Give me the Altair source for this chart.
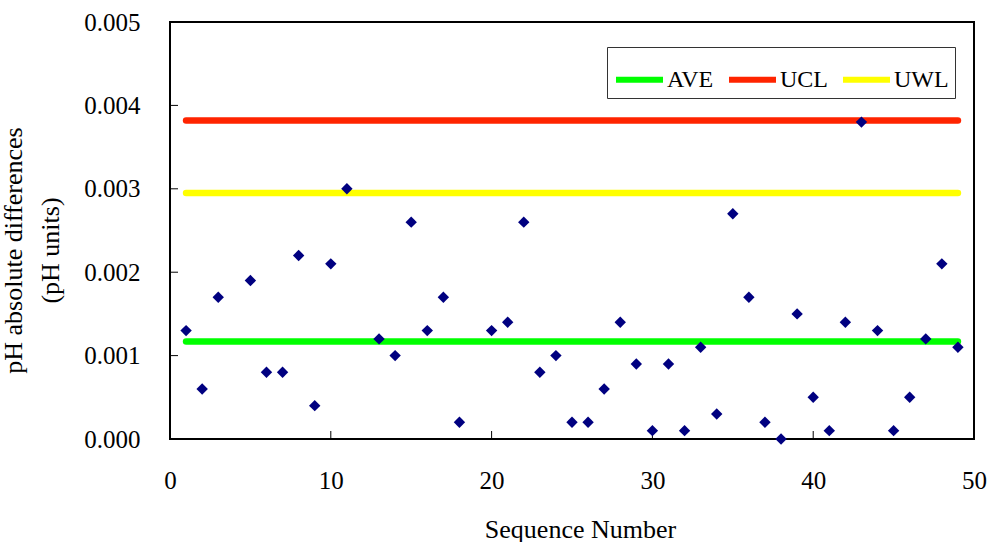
import altair as alt
import pandas as pd

# ---- data ----
seq = [1, 2, 3, 5, 6, 7, 8, 9, 10, 11, 13, 14, 15, 16, 17, 18, 20, 21, 22, 23,
       24, 25, 26, 27, 28, 29, 30, 31, 32, 33, 34, 35, 36, 37, 38, 39, 40, 41,
       42, 43, 44, 45, 46, 47, 48, 49]
diffs = [0.0013, 0.0006, 0.0017, 0.0019, 0.0008, 0.0008, 0.0022, 0.0004, 0.0021,
         0.0030, 0.0012, 0.0010, 0.0026, 0.0013, 0.0017, 0.0002, 0.0013, 0.0014,
         0.0026, 0.0008, 0.0010, 0.0002, 0.0002, 0.0006, 0.0014, 0.0009, 0.0001,
         0.0009, 0.0001, 0.0011, 0.0003, 0.0027, 0.0017, 0.0002, 0.0000, 0.0015,
         0.0005, 0.0001, 0.0014, 0.0038, 0.0013, 0.0001, 0.0005, 0.0012, 0.0021,
         0.0011]

limit_names = ["AVE", "UCL", "UWL"]
limit_values = [0.00117, 0.00382, 0.00295]
limit_start = 1
limit_end = 49
limit_colors = ["#00FF00", "#FF2400", "#FFFF00"]

x_ticks = [0, 10, 20, 30, 40, 50]
y_ticks = [0.0, 0.001, 0.002, 0.003, 0.004, 0.005]
x_inner_ticks = [10, 20, 30, 40]
y_inner_ticks = [0.001, 0.002, 0.003, 0.004]

FONT = "Liberation Serif"

points = pd.DataFrame({"seq": seq, "diff": diffs})
lines = pd.DataFrame({
    "series": [n for n in limit_names for _ in range(2)],
    "seq": [limit_start, limit_end] * len(limit_names),
    "diff": [v for v in limit_values for _ in range(2)],
})
xt = pd.DataFrame({"seq": x_inner_ticks, "diff": [0.0] * len(x_inner_ticks)})
yt = pd.DataFrame({"seq": [0] * len(y_inner_ticks), "diff": y_inner_ticks})

x_enc = alt.X(
    "seq:Q",
    scale=alt.Scale(domain=[0, 50], nice=False, zero=False),
    axis=alt.Axis(
        values=x_ticks, format="d", title="Sequence Number", grid=False,
        domain=False, ticks=False, tickSize=0,
        labelPadding=49, labelBaseline="alphabetic", labelFontSize=25,
        labelFont=FONT, labelColor="black", titleFont=FONT, titleFontSize=26,
        titleFontWeight="normal", titleColor="black", titleBaseline="alphabetic",
        titleX=410, titleY=98, labelFlush=False, labelOverlap=False,
    ),
)
y_enc = alt.Y(
    "diff:Q",
    scale=alt.Scale(domain=[0, 0.005], nice=False),
    axis=alt.Axis(
        values=y_ticks, format=".3f",
        title=["pH absolute differences", "(pH units)"], grid=False,
        domain=False, ticks=False, tickSize=0,
        labelPadding=30, labelFontSize=25, labelFont=FONT, labelColor="black",
        titleFont=FONT, titleFontSize=26, titleFontWeight="normal",
        titleColor="black", titleBaseline="alphabetic", titleAngle=270,
        titleAlign="center", titleX=-149, titleY=228, titleLineHeight=37,
        labelFlush=False, labelOverlap=False,
    ),
)

line_layer = alt.Chart(lines).mark_line(strokeWidth=6.5, strokeCap="round").encode(
    x=x_enc,
    y=y_enc,
    color=alt.Color(
        "series:N",
        scale=alt.Scale(domain=limit_names, range=limit_colors),
        legend=alt.Legend(
            title=None, orient="none", legendX=437, legendY=25,
            direction="horizontal", symbolType="stroke", symbolSize=2209,
            symbolStrokeWidth=6, labelFont=FONT, labelFontSize=24,
            labelColor="black", labelOffset=1, columnPadding=3, padding=6,
            strokeColor="#333333", fillColor="white",
        ),
    ),
    detail="series:N",
)

xtick_layer = alt.Chart(xt).mark_tick(
    orient="vertical", size=8, thickness=1, color="black", yOffset=-4, opacity=1
).encode(x=x_enc, y=y_enc)

ytick_layer = alt.Chart(yt).mark_tick(
    orient="horizontal", size=8, thickness=1, color="black", xOffset=4, opacity=1
).encode(x=x_enc, y=y_enc)

point_layer = alt.Chart(points).mark_point(
    shape="diamond", filled=True, color="#000080", size=130, opacity=1
).encode(x=x_enc, y=y_enc)

chart = alt.layer(xtick_layer, ytick_layer, line_layer, point_layer).properties(
    width=804,
    height=417,
    autosize=alt.AutoSizeParams(type="none"),
    padding={"left": 170, "top": 22, "right": 17, "bottom": 103},
    background="white",
).configure_view(stroke="black", strokeWidth=2)

chart.save("out.html", embed_options={"renderer": "svg", "actions": False})
